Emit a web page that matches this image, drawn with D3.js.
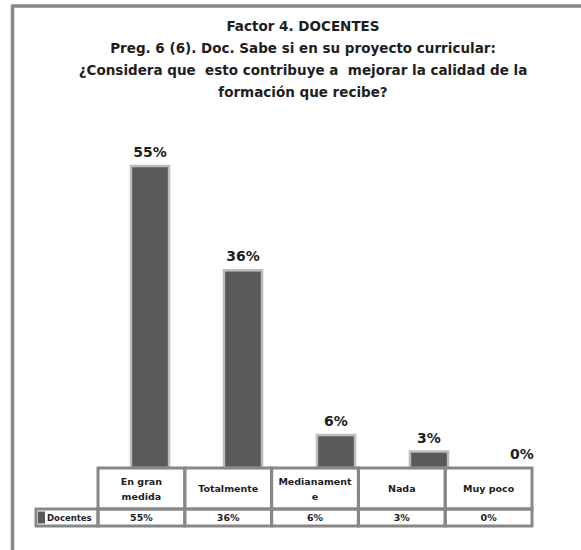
<!DOCTYPE html>
<html>
<head>
<meta charset="utf-8">
<script src="https://cdn.jsdelivr.net/npm/d3@7"></script>
<style>
  html, body { margin: 0; padding: 0; background: #fff; }
  svg { display: block; font-family: "DejaVu Sans", Verdana, sans-serif; }
</style>
</head>
<body>
<svg id="chart" width="581" height="550"></svg>
<script>
// Survey answers and their shares (%)
const categories = ["En gran medida", "Totalmente", "Medianamente", "Nada", "Muy poco"];
const headerLines = [["En gran", "medida"], ["Totalmente"], ["Medianament", "e"], ["Nada"], ["Muy poco"]];
const values = [55, 36, 6, 3, 0];
const seriesName = "Docentes";
const titleLines = [
  "Factor 4. DOCENTES",
  "Preg. 6 (6). Doc. Sabe si en su proyecto curricular:",
  "¿Considera que  esto contribuye a  mejorar la calidad de la",
  "formación que recibe?"
];

const svg = d3.select("#chart");
const frameColor = "#878787";
const barColor = "#595959";
const edgeColor = "#bdbdbd";
const textColor = "#1e1e1e";

// outer frame (top and left edges)
svg.append("line").attr("x1", 12.5).attr("x2", 581).attr("y1", 6).attr("y2", 6)
  .attr("stroke", frameColor).attr("stroke-width", 3.5);
svg.append("line").attr("x1", 12.5).attr("x2", 12.5).attr("y1", 4.5).attr("y2", 550)
  .attr("stroke", frameColor).attr("stroke-width", 3.5);

// title
svg.append("g").selectAll("text").data(titleLines).join("text")
  .attr("x", 303)
  .attr("y", (d, i) => 30.5 + i * 22)
  .attr("text-anchor", "middle")
  .attr("font-size", 13.5)
  .attr("font-weight", "bold")
  .attr("fill", textColor)
  .style("white-space", "pre")
  .text(d => d);

// scales
const baseY = 468;
const x = d3.scaleBand().domain(categories).range([103.5, 568.5])
  .paddingInner(0.59).paddingOuter(0.295);
const y = d3.scaleLinear().domain([0, 55]).range([baseY, 166]);

// bars
svg.append("g").selectAll("rect").data(values).join("rect")
  .attr("x", (d, i) => x(categories[i]))
  .attr("y", d => y(d))
  .attr("width", x.bandwidth())
  .attr("height", d => baseY - y(d))
  .attr("fill", barColor)
  .attr("stroke", d => d > 0 ? edgeColor : "none")
  .attr("stroke-width", 2.5);

// value labels above bars
svg.append("g").selectAll("text").data(values).join("text")
  .attr("x", (d, i) => x(categories[i]) + x.bandwidth() / 2)
  .attr("y", d => y(d) - 9)
  .attr("text-anchor", "middle")
  .attr("font-size", 14)
  .attr("font-weight", "bold")
  .attr("fill", textColor)
  .text(d => d + "%");

// data table below the plot
const tx = d3.scaleBand().domain(categories).range([98, 532]);
const row1Top = baseY, row1Bot = 509, row2Bot = 526;
const labelLeft = 36;
const table = svg.append("g");
const lineW = 3;

// header row cells
table.selectAll("rect.head").data(categories).join("rect")
  .attr("class", "head")
  .attr("x", d => tx(d)).attr("y", row1Top)
  .attr("width", tx.bandwidth()).attr("height", row1Bot - row1Top)
  .attr("fill", "none").attr("stroke", frameColor).attr("stroke-width", lineW);
// value row cells
table.selectAll("rect.val").data(categories).join("rect")
  .attr("class", "val")
  .attr("x", d => tx(d)).attr("y", row1Bot)
  .attr("width", tx.bandwidth()).attr("height", row2Bot - row1Bot)
  .attr("fill", "none").attr("stroke", frameColor).attr("stroke-width", lineW);
// series label cell
table.append("rect")
  .attr("x", labelLeft).attr("y", row1Bot)
  .attr("width", tx.range()[0] - labelLeft).attr("height", row2Bot - row1Bot)
  .attr("fill", "none").attr("stroke", frameColor).attr("stroke-width", lineW);

// header texts
table.selectAll("g.hdr").data(categories).join("g")
  .attr("class", "hdr")
  .each(function(d, i) {
    const lines = headerLines[i];
    const cx = tx(d) + tx.bandwidth() / 2;
    const cy = (row1Top + row1Bot) / 2;
    const lh = 15;
    d3.select(this).selectAll("text").data(lines).join("text")
      .attr("x", cx)
      .attr("y", (l, j) => cy + (j - (lines.length - 1) / 2) * lh + 3.5)
      .attr("text-anchor", "middle")
      .attr("font-size", 9.5)
      .attr("font-weight", "bold")
      .attr("fill", textColor)
      .text(l => l);
  });

// value row texts
table.selectAll("text.v").data(values).join("text")
  .attr("class", "v")
  .attr("x", (d, i) => tx(categories[i]) + tx.bandwidth() / 2)
  .attr("y", (row1Bot + row2Bot) / 2 + 3.5)
  .attr("text-anchor", "middle")
  .attr("font-size", 9.5)
  .attr("font-weight", "bold")
  .attr("fill", textColor)
  .text(d => d + "%");

// legend key and series name
table.append("rect")
  .attr("x", 38).attr("y", 511.5).attr("width", 7).attr("height", 12)
  .attr("fill", barColor);
table.append("text")
  .attr("x", 47).attr("y", (row1Bot + row2Bot) / 2 + 3.5)
  .attr("font-size", 8.5)
  .attr("font-weight", "bold")
  .attr("fill", textColor)
  .text(seriesName);
</script>
</body>
</html>
